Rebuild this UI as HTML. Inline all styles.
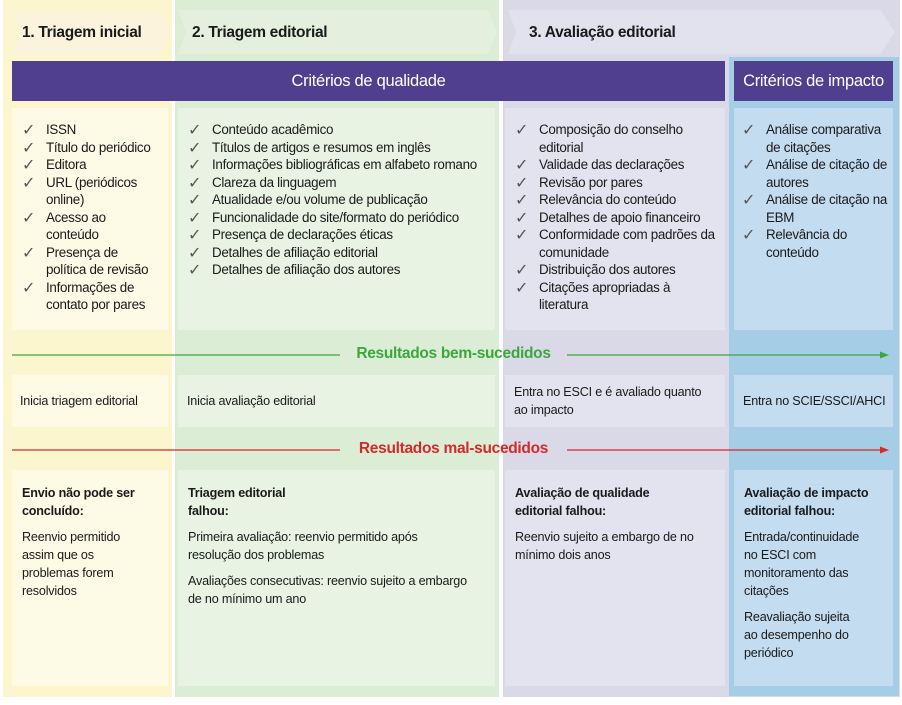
<!DOCTYPE html>
<html><head><meta charset="utf-8"><style>
*{margin:0;padding:0;box-sizing:border-box}
body{width:902px;height:705px;background:#fff;position:relative;overflow:hidden;font-family:"Liberation Sans",sans-serif;color:#1a1a1a}
.a{position:absolute}
.t{font-size:13.4px;line-height:17.5px;letter-spacing:-0.3px;white-space:nowrap}
.s{font-size:12.6px;line-height:18px;letter-spacing:-0.2px;white-space:nowrap}
ul{list-style:none}
li{position:relative;padding-left:26px}
li:before{content:"✓";position:absolute;left:2px;top:0;color:#555;font-size:16px;font-family:"DejaVu Sans",sans-serif}
.h{font-size:15.5px;font-weight:bold;letter-spacing:-0.3px}
.b{font-weight:bold}
p{margin-bottom:8px}
</style></head><body>
<div class="a" style="left:3px;top:0;width:169px;height:697px;background:#fcf6cf"></div>
<div class="a" style="left:175px;top:0;width:324px;height:697px;background:#dcedd5"></div>
<div class="a" style="left:503px;top:0;width:397px;height:697px;background:#d9d9e8"></div>
<div class="a" style="left:729px;top:57px;width:170px;height:639px;background:#a6cde6"></div>
<svg class="a" style="left:0;top:0" width="902" height="60">
<polygon points="12,10 160,10 170,32 160,54 12,54 20,32" fill="#fbf3dc"/>
<polygon points="178,10 488,10 497,32 488,54 178,54 186,32" fill="#e4f0dd"/>
<polygon points="508,10 880,10 895,32 880,54 508,54 516,32" fill="#e2e1ee"/>
</svg>
<div class="a h" style="left:22px;top:24px">1. Triagem inicial</div>
<div class="a h" style="left:192px;top:24px">2. Triagem editorial</div>
<div class="a h" style="left:529px;top:24px">3. Avaliação editorial</div>
<div class="a h" style="left:12px;top:61px;width:713px;height:40px;background:#4f3f8e;color:#fff;text-align:center;line-height:40px;font-weight:normal;font-size:16.5px">Critérios de qualidade</div>
<div class="a h" style="left:734px;top:61px;width:159px;height:40px;background:#4f3f8e;color:#fff;text-align:center;line-height:40px;font-weight:normal;font-size:16.5px">Critérios de impacto</div>
<div class="a t" style="left:12px;top:108px;width:156px;height:222px;background:#fdfae6;padding:13px 0 0 8px"><ul>
<li>ISSN</li><li>Título do periódico</li><li>Editora</li><li>URL (periódicos<br>online)</li><li>Acesso ao<br>conteúdo</li><li>Presença de<br>política de revisão</li><li>Informações de<br>contato por pares</li></ul></div>
<div class="a t" style="left:178px;top:108px;width:317px;height:222px;background:#e8f3e3;padding:13px 0 0 8px"><ul>
<li>Conteúdo acadêmico</li><li>Títulos de artigos e resumos em inglês</li><li>Informações bibliográficas em alfabeto romano</li><li>Clareza da linguagem</li><li>Atualidade e/ou volume de publicação</li><li>Funcionalidade do site/formato do periódico</li><li>Presença de declarações éticas</li><li>Detalhes de afiliação editorial</li><li>Detalhes de afiliação dos autores</li></ul></div>
<div class="a t" style="left:505px;top:108px;width:220px;height:222px;background:#e3e2ef;padding:13px 0 0 8px"><ul>
<li>Composição do conselho<br>editorial</li><li>Validade das declarações</li><li>Revisão por pares</li><li>Relevância do conteúdo</li><li>Detalhes de apoio financeiro</li><li>Conformidade com padrões da<br>comunidade</li><li>Distribuição dos autores</li><li>Citações apropriadas à<br>literatura</li></ul></div>
<div class="a t" style="left:734px;top:108px;width:159px;height:222px;background:#c3dcf0;padding:13px 0 0 6px"><ul>
<li>Análise comparativa<br>de citações</li><li>Análise de citação de<br>autores</li><li>Análise de citação na<br>EBM</li><li>Relevância do<br>conteúdo</li></ul></div>
<svg class="a" style="left:0;top:340px" width="902" height="120">
<line x1="12" y1="15" x2="340" y2="15" stroke="#3aa83a" stroke-width="1.3"/>
<line x1="567" y1="15" x2="882" y2="15" stroke="#3aa83a" stroke-width="1.3"/>
<polygon points="889,15 880,11.5 880,18.5" fill="#3aa83a"/>
<line x1="12" y1="110" x2="340" y2="110" stroke="#d42a2a" stroke-width="1.3"/>
<line x1="567" y1="110" x2="882" y2="110" stroke="#d42a2a" stroke-width="1.3"/>
<polygon points="889,110 880,106.5 880,113.5" fill="#d42a2a"/>
</svg>
<div class="a" style="left:330px;top:345px;width:247px;text-align:center;color:#3aa83a;font-weight:bold;font-size:15.5px;letter-spacing:-0.3px">Resultados bem-sucedidos</div>
<div class="a" style="left:330px;top:440px;width:247px;text-align:center;color:#d42a2a;font-weight:bold;font-size:15.5px;letter-spacing:-0.3px">Resultados mal-sucedidos</div>
<div class="a s" style="left:12px;top:375px;width:156px;height:52px;background:#fdfae6;padding:17px 0 0 8px">Inicia triagem editorial</div>
<div class="a s" style="left:178px;top:375px;width:317px;height:52px;background:#e8f3e3;padding:17px 0 0 9px">Inicia avaliação editorial</div>
<div class="a s" style="left:505px;top:375px;width:220px;height:52px;background:#e3e2ef;padding:8px 0 0 9px">Entra no ESCI e é avaliado quanto<br>ao impacto</div>
<div class="a s" style="left:734px;top:375px;width:159px;height:52px;background:#c3dcf0;padding:17px 0 0 9px">Entra no SCIE/SSCI/AHCI</div>
<div class="a s" style="left:12px;top:470px;width:156px;height:216px;background:#fdfae6;padding:14px 0 0 10px"><p class="b">Envio não pode ser<br>concluído:</p><p>Reenvio permitido<br>assim que os<br>problemas forem<br>resolvidos</p></div>
<div class="a s" style="left:178px;top:470px;width:317px;height:216px;background:#e8f3e3;padding:14px 0 0 10px"><p class="b">Triagem editorial<br>falhou:</p><p>Primeira avaliação: reenvio permitido após<br>resolução dos problemas</p><p>Avaliações consecutivas: reenvio sujeito a embargo<br>de no mínimo um ano</p></div>
<div class="a s" style="left:505px;top:470px;width:220px;height:216px;background:#e3e2ef;padding:14px 0 0 10px"><p class="b">Avaliação de qualidade<br>editorial falhou:</p><p>Reenvio sujeito a embargo de no<br>mínimo dois anos</p></div>
<div class="a s" style="left:734px;top:470px;width:159px;height:216px;background:#c3dcf0;padding:14px 0 0 10px"><p class="b">Avaliação de impacto<br>editorial falhou:</p><p>Entrada/continuidade<br>no ESCI com<br>monitoramento das<br>citações</p><p>Reavaliação sujeita<br>ao desempenho do<br>periódico</p></div>
</body></html>
